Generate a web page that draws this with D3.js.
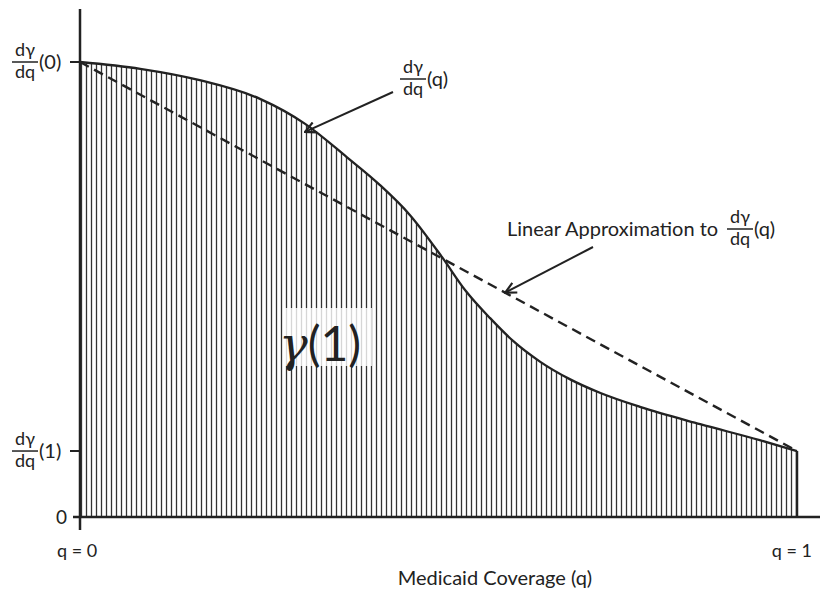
<!DOCTYPE html>
<html>
<head>
<meta charset="utf-8">
<script src="https://cdn.jsdelivr.net/npm/d3@7"></script>
<style>
    body { margin: 0; background: #fff; }
    svg { display: block; font-family: Lato, "Open Sans", sans-serif; }
</style>
</head>
<body>
<div id="chart"></div>
<script>
// ============================================
// Marginal effect curve dγ/dq(q) and its linear approximation
// ============================================

// coverage share q and the marginal value dγ/dq
const qValues = [0, 0.084, 0.167, 0.251, 0.314, 0.372, 0.418, 0.460, 0.505, 0.537, 0.572, 0.604, 0.642, 0.683, 0.725, 0.781, 0.865, 0.948, 1];
const marginalValues = [1.0, 0.985, 0.960, 0.919, 0.864, 0.791, 0.730, 0.664, 0.571, 0.499, 0.437, 0.387, 0.341, 0.303, 0.273, 0.242, 0.204, 0.169, 0.145];

const xTickLabels = ['q = 0', 'q = 1'];
const yTickArgs = ['(0)', '(1)'];
const xAxisTitle = 'Medicaid Coverage (q)';
const approxLabel = 'Linear Approximation to';

const width = 820;
const height = 592;

const data = qValues.map((q, i) => ({ q, v: marginalValues[i] }));
const first = data[0];
const last = data[data.length - 1];

const x = d3.scaleLinear().domain([0, 1]).range([80, 797]);
const y = d3.scaleLinear().domain([0, 1]).range([517, 62]);

const svg = d3.select('#chart')
    .append('svg')
    .attr('width', width)
    .attr('height', height);

// Hatch pattern
const defs = svg.append('defs');
const hatch = defs.append('pattern')
    .attr('id', 'hatch')
    .attr('patternUnits', 'userSpaceOnUse')
    .attr('x', x(0))
    .attr('width', 5)
    .attr('height', 10);
hatch.append('rect').attr('width', 5).attr('height', 10).attr('fill', '#fff');
hatch.append('line')
    .attr('x1', 1.5).attr('x2', 1.5)
    .attr('y1', 0).attr('y2', 10)
    .attr('stroke', '#333')
    .attr('stroke-width', 1.3);

defs.append('marker')
    .attr('id', 'arrow')
    .attr('viewBox', '0 0 12 12')
    .attr('refX', 11)
    .attr('refY', 6)
    .attr('markerWidth', 13)
    .attr('markerHeight', 13)
    .attr('markerUnits', 'userSpaceOnUse')
    .attr('orient', 'auto')
    .append('path')
    .attr('d', 'M1,1 L11,6 L1,11')
    .attr('fill', 'none')
    .attr('stroke', '#222')
    .attr('stroke-width', 2);

const curve = d3.curveMonotoneX;

// Area under curve
svg.append('path')
    .datum(data)
    .attr('d', d3.area().x(d => x(d.q)).y0(y(0)).y1(d => y(d.v)).curve(curve))
    .attr('fill', 'url(#hatch)');

// Right edge of area
svg.append('line')
    .attr('x1', x(last.q)).attr('x2', x(last.q))
    .attr('y1', y(last.v)).attr('y2', y(0))
    .attr('stroke', '#222')
    .attr('stroke-width', 2.5);

// Linear approximation
svg.append('line')
    .attr('x1', x(first.q)).attr('y1', y(first.v))
    .attr('x2', x(last.q)).attr('y2', y(last.v))
    .attr('stroke', '#222')
    .attr('stroke-width', 2.4)
    .attr('stroke-dasharray', '10,6');

// Curve
svg.append('path')
    .datum(data)
    .attr('d', d3.line().x(d => x(d.q)).y(d => y(d.v)).curve(curve))
    .attr('fill', 'none')
    .attr('stroke', '#222')
    .attr('stroke-width', 2.3);

// Axes
svg.append('line')
    .attr('x1', x(0)).attr('x2', x(0))
    .attr('y1', 9).attr('y2', 530)
    .attr('stroke', '#222').attr('stroke-width', 2.5);
svg.append('line')
    .attr('x1', 73).attr('x2', width)
    .attr('y1', y(0)).attr('y2', y(0))
    .attr('stroke', '#222').attr('stroke-width', 2.5);

[first.v, last.v].forEach(v => {
    svg.append('line')
        .attr('x1', 70).attr('x2', x(0))
        .attr('y1', y(v)).attr('y2', y(v))
        .attr('stroke', '#222').attr('stroke-width', 2);
});

svg.append('text')
    .attr('x', 67).attr('y', y(0) + 7)
    .attr('text-anchor', 'end')
    .style('font-size', '19px')
    .style('fill', '#222')
    .text('0');

// fraction label dγ/dq(arg)
function fracLabel(left, barY, arg, size) {
    const g = svg.append('g').style('fill', '#222');
    g.append('text')
        .attr('x', left + 13).attr('y', barY - 6)
        .attr('text-anchor', 'middle')
        .style('font-size', (size - 2) + 'px')
        .text('dγ');
    g.append('line')
        .attr('x1', left).attr('x2', left + 26)
        .attr('y1', barY).attr('y2', barY)
        .attr('stroke', '#222').attr('stroke-width', 1.5);
    g.append('text')
        .attr('x', left + 13).attr('y', barY + 16)
        .attr('text-anchor', 'middle')
        .style('font-size', (size - 2) + 'px')
        .text('dq');
    g.append('text')
        .attr('x', left + 27).attr('y', barY + 7)
        .style('font-size', size + 'px')
        .text(arg);
}

fracLabel(12, y(first.v), yTickArgs[0], 20);
fracLabel(12, y(last.v), yTickArgs[1], 20);

// x tick labels
svg.append('text')
    .attr('x', 57).attr('y', 557)
    .style('font-size', '18px').style('fill', '#222')
    .text(xTickLabels[0]);
svg.append('text')
    .attr('x', 812).attr('y', 557)
    .attr('text-anchor', 'end')
    .style('font-size', '18px').style('fill', '#222')
    .text(xTickLabels[1]);

svg.append('text')
    .attr('x', 495).attr('y', 585)
    .attr('text-anchor', 'middle')
    .style('font-size', '20px').style('fill', '#222')
    .text(xAxisTitle);

// Curve annotation
fracLabel(400, 79, '(q)', 20);
svg.append('line')
    .attr('x1', 393).attr('y1', 92)
    .attr('x2', 305).attr('y2', y(0.864) + 8)
    .attr('stroke', '#222').attr('stroke-width', 2)
    .attr('marker-end', 'url(#arrow)');

// Linear approximation annotation
svg.append('text')
    .attr('x', 507).attr('y', 236)
    .style('font-size', '20px').style('fill', '#222')
    .text(approxLabel);
fracLabel(727, 229, '(q)', 20);

const tApprox = 0.593;
svg.append('line')
    .attr('x1', 593).attr('y1', 247)
    .attr('x2', x(tApprox)).attr('y2', y(first.v + (last.v - first.v) * tApprox))
    .attr('stroke', '#222').attr('stroke-width', 2)
    .attr('marker-end', 'url(#arrow)');

// Area label γ(1)
svg.append('rect')
    .attr('x', 283).attr('y', 308)
    .attr('width', 89).attr('height', 58)
    .attr('fill', '#fff')
    .attr('opacity', 0.8);
const areaText = svg.append('text')
    .attr('x', 279).attr('y', 361)
    .style('font-size', '48px')
    .style('fill', '#222');
areaText.append('tspan')
    .style('font-family', '"DejaVu Serif", serif')
    .style('font-style', 'italic')
    .text('γ');
areaText.append('tspan')
    .text('(1)');
</script>
</body>
</html>
